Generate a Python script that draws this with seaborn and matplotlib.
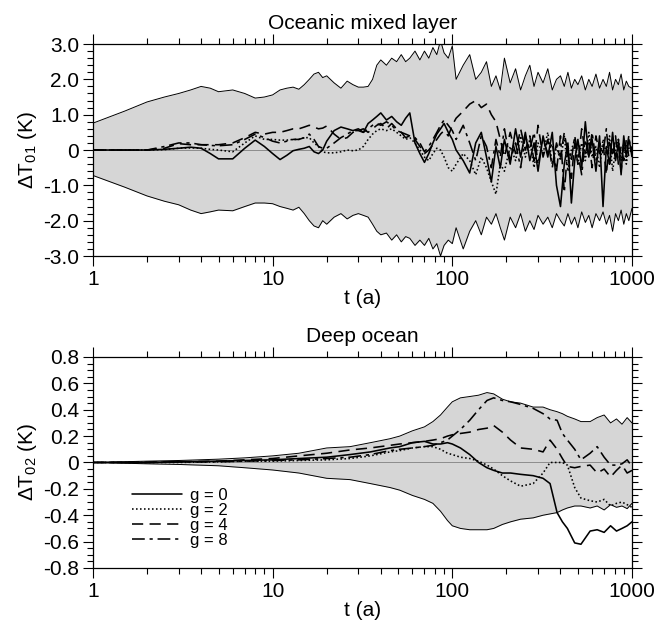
import numpy as np
import pandas as pd
import seaborn as sns
import matplotlib.pyplot as plt
from matplotlib.ticker import MultipleLocator, LogLocator, NullFormatter

# ---- Oceanic mixed layer (top panel) ----
t_mix = ([1, 1.5, 2, 2.5, 3, 3.5, 4, 4.5, 5, 6, 7, 8, 9, 10, 11, 12, 13, 14, 15, 16, 17, 18, 19, 20]
         + [22, 24, 26, 28, 30, 32, 34, 36, 38, 40, 43, 46, 49, 52, 55, 58, 62, 66, 70, 74, 78, 82, 86, 90, 95, 100]
         + [105, 115, 125, 135, 145, 155, 165, 175, 185, 195, 210, 225, 240, 255, 270, 285, 300,
            320, 340, 360, 380, 400, 420, 440, 460, 480, 500, 525, 550, 575, 600,
            630, 660, 690, 720, 750, 780, 810, 840, 870, 900, 930, 960, 1000])

mix_upper = ([0.76, 1.10, 1.36, 1.50, 1.60, 1.70, 1.80, 1.75, 1.65, 1.70, 1.60, 1.47, 1.50, 1.56, 1.70, 1.75,
              1.78, 1.72, 1.85, 2.00, 2.15, 2.20, 2.05, 2.10]
             + [1.90, 1.75, 1.95, 1.85, 1.78, 1.78, 1.80, 2.00, 2.40, 2.55, 2.40, 2.60, 2.50, 2.70, 2.50, 2.60,
                2.80, 2.55, 2.80, 2.60, 2.90, 2.70, 3.10, 2.75, 2.60, 2.95]
             + [2.00, 2.40, 2.70, 2.00, 2.20, 2.50, 1.80, 2.10, 1.70, 2.60, 1.90, 2.30, 1.70, 2.10, 2.40, 1.80,
                2.20, 1.90, 2.30, 1.70, 2.00, 2.10, 1.80, 2.20, 1.75, 2.00, 1.85, 2.10, 1.70, 2.00, 1.80, 2.15,
                1.75, 2.00, 1.80, 2.20, 1.70, 2.00, 1.85, 2.15, 1.70, 1.95, 1.80, 1.75])
mix_lower = ([-0.72, -1.05, -1.30, -1.45, -1.55, -1.70, -1.80, -1.75, -1.70, -1.72, -1.60, -1.50, -1.50, -1.52,
              -1.60, -1.65, -1.70, -1.62, -1.80, -2.00, -2.15, -2.20, -2.00, -2.10]
             + [-1.90, -1.80, -1.95, -1.85, -1.80, -1.85, -1.90, -2.10, -2.30, -2.40, -2.35, -2.55, -2.40, -2.60,
                -2.45, -2.50, -2.70, -2.55, -2.70, -2.50, -2.80, -2.65, -3.00, -2.70, -2.55, -2.65]
             + [-2.20, -2.80, -2.30, -2.00, -2.40, -1.90, -2.10, -1.80, -2.20, -2.55, -1.90, -2.20, -1.80, -2.30,
                -2.00, -2.25, -1.85, -2.10, -1.90, -2.20, -1.80, -2.00, -2.15, -1.80, -2.10, -1.90, -2.20, -1.75,
                -2.05, -1.85, -2.20, -1.80, -2.00, -1.75, -2.10, -1.85, -2.30, -1.80, -2.00, -1.70, -2.10, -1.80,
                -2.00, -1.65])

mix_g0 = ([0, 0, 0, 0.02, 0.05, 0.08, 0.05, -0.10, -0.25, -0.25, 0.05, 0.28, 0.10, -0.10, -0.27, -0.15,
           -0.02, 0.02, 0.05, 0.10, -0.05, -0.10, 0.00, 0.25]
          + [0.55, 0.65, 0.60, 0.55, 0.60, 0.50, 0.75, 0.85, 0.95, 1.05, 0.85, 0.95, 0.80, 0.70, 0.90, 1.05,
             0.20, -0.10, -0.35, -0.10, 0.20, 0.45, 0.60, 0.75, 0.50, 0.30]
          + [0.00, -0.30, -0.65, 0.20, 0.50, -0.20, -0.90, 0.10, -0.50, 0.30, -0.40, 0.60, -0.20, 0.50, -0.30,
             0.20, -0.60, 0.40, -0.20, 0.50, -1.00, -1.60, -0.40, 0.20, -1.50, -0.30, 0.30, -0.50, 0.80, -0.20,
             0.30, -0.60, 0.40, -1.60, 0.10, -0.40, 0.50, -0.30, 0.20, -0.70, 0.40, -0.20, 0.30, -0.10])
mix_g2 = ([0, 0, 0, 0.01, 0.05, 0.06, 0.05, 0.02, 0.00, -0.05, 0.20, 0.40, 0.30, 0.30, 0.28, 0.28, 0.30,
           0.30, 0.35, 0.35, 0.20, 0.10, -0.05, -0.08]
          + [-0.08, -0.05, 0.00, -0.02, 0.00, 0.10, 0.30, 0.45, 0.55, 0.60, 0.55, 0.60, 0.50, 0.40, 0.30, 0.35,
             0.20, 0.00, -0.20, -0.30, -0.10, 0.05, 0.00, -0.20, -0.50, -0.60]
          + [-0.40, -0.10, -0.30, -0.70, -0.20, -0.50, -0.90, -1.25, -0.40, -0.60, 0.10, -0.30, 0.40, -0.20,
             0.30, -0.50, 0.20, -0.10, 0.50, -0.40, 0.10, -0.30, 0.40, -0.60, 0.00, 0.30, -0.40, 0.20, -0.30,
             0.50, -0.20, 0.10, -0.50, 0.30, -0.10, 0.40, -0.60, 0.00, 0.30, -0.30, 0.20, -0.40, 0.10, 0.00])
mix_g4 = ([0, 0, 0, 0.05, 0.18, 0.15, 0.15, 0.15, 0.15, 0.20, 0.35, 0.50, 0.45, 0.50, 0.50, 0.55, 0.60,
           0.60, 0.65, 0.70, 0.65, 0.60, 0.62, 0.68]
          + [0.45, 0.30, 0.35, 0.50, 0.55, 0.60, 0.50, 0.60, 0.70, 0.75, 0.60, 0.75, 0.60, 0.50, 0.35, 0.40,
             0.30, 0.10, -0.10, 0.00, 0.15, 0.30, 0.45, 0.55, 0.40, 0.70]
          + [0.90, 1.10, 1.30, 1.40, 1.20, 1.30, 1.00, 0.80, 0.30, -0.20, 0.50, -0.10, 0.60, 0.00, 0.40, -0.30,
             0.70, -0.20, 0.30, -0.50, 0.20, -0.20, 0.50, -0.10, -0.80, 0.20, -0.40, 0.60, -0.10, 0.30, -0.50,
             0.40, -0.10, 0.20, -0.70, 0.30, -0.20, 0.40, -0.40, 0.10, -0.30, 0.30, -0.20, 0.10])
mix_g8 = ([0, 0, 0, 0.10, 0.20, 0.20, 0.15, 0.13, 0.12, 0.15, 0.30, 0.45, 0.35, 0.25, 0.20, 0.25, 0.30,
           0.30, 0.35, 0.45, 0.30, 0.10, 0.05, 0.05]
          + [0.20, 0.35, 0.45, 0.55, 0.55, 0.50, 0.60, 0.70, 0.75, 0.70, 0.80, 0.70, 0.55, 0.50, 0.45, 0.40,
             0.35, 0.20, -0.05, 0.10, 0.30, 0.50, 0.70, 0.85, 0.70, 0.55]
          + [0.30, 0.70, 0.20, -0.30, 0.40, 0.10, -0.50, 0.30, -0.20, 0.60, -0.30, 0.20, -0.50, 0.40, 0.00,
             0.50, -0.40, 0.30, -0.10, 0.20, -0.60, 0.40, -1.20, 0.10, -0.30, 0.40, -0.10, -0.70, 0.30, -0.20,
             0.50, -0.30, 0.20, -0.10, 0.60, -0.40, 0.10, -0.20, 0.30, -0.60, 0.20, -0.10, 0.40, -0.20])

# ---- Deep ocean (bottom panel) ----
t_deep = [1, 2, 3, 5, 7, 10, 14, 20, 27, 35, 45, 51, 60, 70, 78, 86, 94, 100, 111, 125, 140, 156, 170,
          190, 211, 240, 282, 320, 350, 383, 410, 437, 480, 520, 585, 640, 700, 760, 820, 880, 940, 1000]
deep_upper = [0, 0.01, 0.015, 0.025, 0.035, 0.05, 0.07, 0.11, 0.12, 0.15, 0.18, 0.20, 0.24, 0.27, 0.31,
              0.36, 0.42, 0.46, 0.49, 0.50, 0.51, 0.53, 0.52, 0.48, 0.46, 0.45, 0.42, 0.42, 0.40, 0.385,
              0.37, 0.35, 0.33, 0.31, 0.31, 0.34, 0.36, 0.30, 0.33, 0.29, 0.34, 0.30]
deep_lower = [0, -0.01, -0.015, -0.025, -0.04, -0.057, -0.08, -0.12, -0.13, -0.16, -0.19, -0.21, -0.25,
              -0.28, -0.31, -0.37, -0.44, -0.48, -0.50, -0.51, -0.51, -0.51, -0.50, -0.47, -0.45, -0.43,
              -0.42, -0.40, -0.39, -0.38, -0.36, -0.345, -0.33, -0.33, -0.345, -0.33, -0.36, -0.32, -0.34,
              -0.33, -0.35, -0.31]
deep_g0 = [0, 0, 0.005, 0.01, 0.015, 0.02, 0.03, 0.04, 0.06, 0.08, 0.11, 0.12, 0.15, 0.16, 0.14, 0.14,
           0.15, 0.14, 0.11, 0.06, 0.00, -0.04, -0.06, -0.08, -0.08, -0.09, -0.10, -0.12, -0.16, -0.38,
           -0.45, -0.50, -0.61, -0.62, -0.52, -0.51, -0.53, -0.48, -0.52, -0.50, -0.48, -0.45]
deep_g2 = [0, 0, 0, 0.005, 0.01, 0.01, 0.015, 0.02, 0.03, 0.05, 0.08, 0.09, 0.11, 0.12, 0.12, 0.10,
           0.07, 0.06, 0.04, 0.03, 0.01, -0.02, -0.05, -0.10, -0.14, -0.18, -0.16, -0.08, 0.00, 0.00,
           0.00, -0.02, -0.19, -0.27, -0.29, -0.30, -0.28, -0.33, -0.31, -0.30, -0.32, -0.34]
deep_g4 = [0, 0.002, 0.005, 0.01, 0.02, 0.03, 0.05, 0.07, 0.095, 0.11, 0.13, 0.14, 0.15, 0.16, 0.17,
           0.18, 0.20, 0.21, 0.22, 0.23, 0.25, 0.26, 0.28, 0.23, 0.17, 0.11, 0.10, 0.08, 0.17, 0.10, 0.03,
           -0.03, -0.04, -0.03, -0.02, -0.08, -0.05, -0.11, -0.06, -0.02, -0.08, -0.06]
deep_g8 = [0, 0, 0.003, 0.006, 0.01, 0.015, 0.02, 0.03, 0.04, 0.06, 0.09, 0.10, 0.11, 0.12, 0.13, 0.15,
           0.17, 0.20, 0.25, 0.32, 0.40, 0.47, 0.49, 0.47, 0.46, 0.44, 0.41, 0.37, 0.33, 0.32, 0.22, 0.17,
           0.10, 0.02, 0.07, 0.12, 0.04, -0.02, -0.02, -0.01, 0.02, -0.03]

g_labels = ['g = 0', 'g = 2', 'g = 4', 'g = 8']
dash_map = {'g = 0': '', 'g = 2': (1, 1.5), 'g = 4': (7, 4), 'g = 8': (8, 3, 2, 3)}


def long_frame(t, series):
    frames = [pd.DataFrame({'t': t, 'dT': vals, 'g': name}) for name, vals in zip(g_labels, series)]
    return pd.concat(frames, ignore_index=True)


def draw_panel(ax, t, upper, lower, series, title, ylabel, lim, major, minor, show_legend):
    ax.fill_between(t, lower, upper, color='#d6d6d6', lw=0)
    ax.plot(t, upper, color='k', lw=0.7)
    ax.plot(t, lower, color='k', lw=0.7)
    ax.axhline(0, color='#808080', lw=0.6)
    df = long_frame(t, series)
    sns.lineplot(data=df, x='t', y='dT', style='g', style_order=g_labels, dashes=dash_map,
                 color='k', linewidth=1.15, estimator=None, sort=False, legend=show_legend, ax=ax)

    ax.set_xscale('log')
    ax.set_xlim(1, 1000)
    ax.set_xticks([1, 10, 100, 1000], ['1', '10', '100', '1000'])
    ax.xaxis.set_minor_locator(LogLocator(base=10, subs=np.arange(2, 10)))
    ax.xaxis.set_minor_formatter(NullFormatter())

    ax.set_ylim(-lim, lim)
    yt = np.round(np.arange(-lim, lim + major / 2, major), 2)
    ylabels = ['0' if abs(v) < 1e-9 else ('%.1f' % v) for v in yt]
    ax.set_yticks(yt, ylabels)
    ax.yaxis.set_minor_locator(MultipleLocator(minor))

    ax.tick_params(which='both', direction='out', top=True, right=True,
                   labeltop=False, labelright=False, labelsize=15, width=0.8, colors='black')
    ax.tick_params(which='major', length=7, pad=3)
    ax.tick_params(which='minor', length=4)
    for s in ax.spines.values():
        s.set_linewidth(0.9)
        s.set_color('black')

    ax.set_title(title, fontsize=15, pad=11, color='black')
    ax.set_xlabel('t (a)', fontsize=15, labelpad=0, color='black')
    ax.set_ylabel(ylabel, fontsize=15, labelpad=3, color='black')


sns.set_style('ticks')
plt.rcParams['font.family'] = ['Liberation Sans', 'DejaVu Sans']
plt.rcParams['mathtext.fontset'] = 'custom'
plt.rcParams['mathtext.rm'] = 'Liberation Sans'
plt.rcParams['mathtext.it'] = 'Liberation Sans:italic'
plt.rcParams['text.color'] = 'black'

fig = plt.figure(figsize=(6.59, 6.29), dpi=100)
ax1 = fig.add_axes([0.141, 0.593, 0.818, 0.337])
ax2 = fig.add_axes([0.141, 0.097, 0.818, 0.3355])

draw_panel(ax1, t_mix, mix_upper, mix_lower, [mix_g0, mix_g2, mix_g4, mix_g8],
           'Oceanic mixed layer', r'$\Delta$T$_{\mathrm{01}}$ (K)', 3.0, 1.0, 0.2, False)
draw_panel(ax2, t_deep, deep_upper, deep_lower, [deep_g0, deep_g2, deep_g4, deep_g8],
           'Deep ocean', r'$\Delta$T$_{\mathrm{02}}$ (K)', 0.8, 0.2, 0.05, True)

sns.move_legend(ax2, 'upper left', bbox_to_anchor=(0.06, 0.41), frameon=False, title=None,
                fontsize=12, handlelength=3.0, labelspacing=0.0, handletextpad=0.5, borderaxespad=0)

fig.savefig('out.png', dpi=100)
